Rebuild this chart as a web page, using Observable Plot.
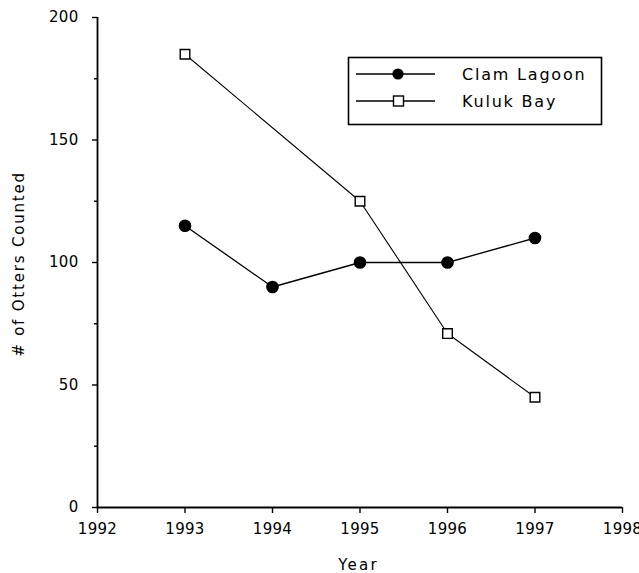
<!DOCTYPE html>
<html><head><meta charset="utf-8">
<script src="https://cdn.jsdelivr.net/npm/d3@7"></script>
<script src="https://cdn.jsdelivr.net/npm/@observablehq/plot@0.6"></script>
<style>
  body{margin:0;background:#fff}
  svg{display:block}
</style>
</head><body><div id="chart"></div>
<script>
const clamYears = [1993, 1994, 1995, 1996, 1997];
const clamLagoon = [115, 90, 100, 100, 110];
const kulukYears = [1993, 1995, 1996, 1997];
const kulukBay = [185, 125, 71, 45];
const xTicks = [1992, 1993, 1994, 1995, 1996, 1997, 1998];
const yTicks = [0, 50, 100, 150, 200];
const yMinorTicks = [25, 75, 125, 175];
const seriesNames = ["Clam Lagoon", "Kuluk Bay"];
const xTitle = "Year";
const yTitle = "# of Otters Counted";

const clam = clamYears.map((year, i) => ({year, count: clamLagoon[i]}));
const kuluk = kulukYears.map((year, i) => ({year, count: kulukBay[i]}));

const W = 639, H = 573;
const mL = 97, mR = 17, mT = 17, mB = 66;

const chart = Plot.plot({
  width: W,
  height: H,
  marginLeft: mL,
  marginRight: mR,
  marginTop: mT,
  marginBottom: mB,
  style: {fontFamily: "DejaVu Sans", fontSize: "15px", color: "#000", background: "#fff", letterSpacing: "0.3px"},
  x: {domain: [1992, 1998]},
  y: {domain: [0, 200]},
  marks: [
    Plot.axisX({ticks: xTicks, tickFormat: "d", tickSize: 6, tickPadding: 10, label: null, stroke: "#000", strokeWidth: 1.4}),
    Plot.axisY({ticks: yTicks, tickSize: 5, tickPadding: 14, label: null, stroke: "#000", strokeWidth: 1.4}),
    Plot.axisY({ticks: yMinorTicks, tickSize: 3, tickFormat: () => "", label: null, stroke: "#000", strokeWidth: 1.4}),
    Plot.ruleY([0], {stroke: "#000", strokeWidth: 1.8}),
    Plot.ruleX([1992], {stroke: "#000", strokeWidth: 1.8}),
    Plot.line(clam, {x: "year", y: "count", stroke: "#000", strokeWidth: 1.3}),
    Plot.line(kuluk, {x: "year", y: "count", stroke: "#000", strokeWidth: 1.1}),
    Plot.dot(clam, {x: "year", y: "count", r: 5.6, fill: "#000", stroke: "#000"}),
    Plot.dot(kuluk, {x: "year", y: "count", r: 5.4, symbol: "square", fill: "#fff", stroke: "#000", strokeWidth: 1.4})
  ]
});

const svg = d3.select(chart);
// Axis titles
svg.append("text")
  .attr("x", (mL + W - mR) / 2 - 1)
  .attr("y", 570)
  .attr("text-anchor", "middle")
  .style("font-size", "15px")
  .style("letter-spacing", "2.2px")
  .attr("fill", "#000")
  .text(xTitle);
svg.append("text")
  .attr("transform", `translate(24,${(mT + H - mB) / 2 + 2}) rotate(-90)`)
  .attr("text-anchor", "middle")
  .style("font-size", "15px")
  .style("letter-spacing", "1.8px")
  .attr("fill", "#000")
  .text(yTitle);

// Legend
const lg = svg.append("g");
lg.append("rect").attr("x", 348.5).attr("y", 57.5).attr("width", 253).attr("height", 67)
  .attr("fill", "#fff").attr("stroke", "#000").attr("stroke-width", 1.6);
const rows = [74, 101];
seriesNames.forEach((name, i) => {
  const y = rows[i];
  lg.append("line").attr("x1", 356).attr("x2", 435).attr("y1", y).attr("y2", y)
    .attr("stroke", "#000").attr("stroke-width", 1.5);
  if (i === 0) {
    lg.append("circle").attr("cx", 398).attr("cy", y).attr("r", 5.6).attr("fill", "#000");
  } else {
    lg.append("rect").attr("x", 393.5).attr("y", y - 5).attr("width", 10).attr("height", 10)
      .attr("fill", "#fff").attr("stroke", "#000").attr("stroke-width", 1.4);
  }
  lg.append("text").attr("x", 462).attr("y", y + 6)
    .attr("text-anchor", "start")
    .style("font-size", "16px").style("letter-spacing", "1.8px")
    .attr("fill", "#000").text(name);
});

document.getElementById("chart").appendChild(chart);
</script>
</body></html>
